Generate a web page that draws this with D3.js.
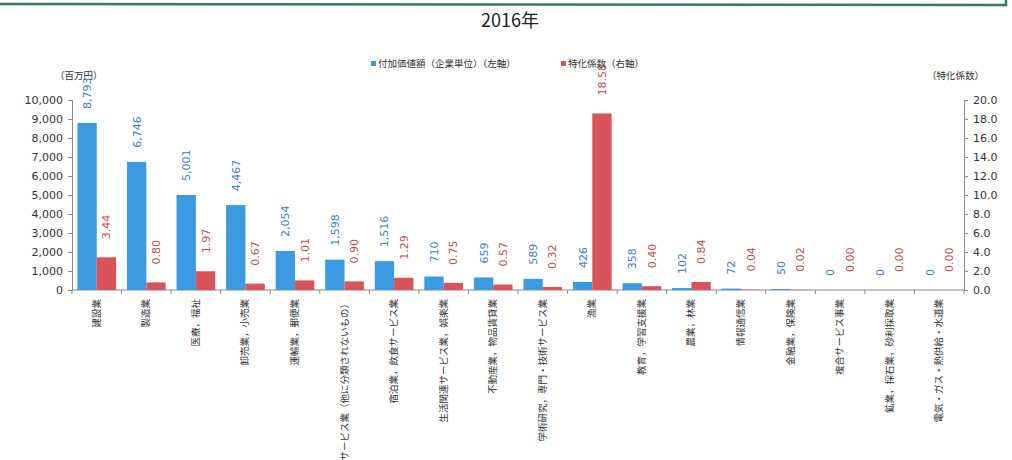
<!DOCTYPE html>
<html>
<head>
<meta charset="utf-8">
<script src="https://cdn.jsdelivr.net/npm/d3@7"></script>
<style>
  body { margin: 0; background: #fff; }
  svg { font-family: "Noto Sans CJK JP", "Noto Sans", sans-serif; }
  .axis path, .axis line { stroke: #8a8a8a; }
  .axis text { font-family: Verdana, "DejaVu Sans", sans-serif; font-size: 11px; fill: #333; }
</style>
</head>
<body>
<script>
// chart data
const categories = [
  '建設業', '製造業', '医療，福祉', '卸売業，小売業', '運輸業，郵便業',
  'サービス業（他に分類されないもの）', '宿泊業，飲食サービス業', '生活関連サービス業，娯楽業',
  '不動産業，物品賃貸業', '学術研究，専門・技術サービス業', '漁業', '教育，学習支援業',
  '農業，林業', '情報通信業', '金融業，保険業', '複合サービス事業',
  '鉱業，採石業，砂利採取業', '電気・ガス・熱供給・水道業'
];
const valueAdded = [8793, 6746, 5001, 4467, 2054, 1598, 1516, 710, 659, 589, 426, 358, 102, 72, 50, 0, 0, 0];
const specialization = [3.44, 0.80, 1.97, 0.67, 1.01, 0.90, 1.29, 0.75, 0.57, 0.32, 18.58, 0.40, 0.84, 0.04, 0.02, 0.00, 0.00, 0.00];
const leftTicks = [0, 1000, 2000, 3000, 4000, 5000, 6000, 7000, 8000, 9000, 10000];
const rightTicks = [0, 2, 4, 6, 8, 10, 12, 14, 16, 18, 20];
const seriesNames = ['付加価値額（企業単位）（左軸）', '特化係数（右軸）'];

const W = 1012, H = 460;
const plot = { left: 72, right: 964, top: 100, bottom: 290 };
const blue = '#3b9ae1', red = '#d9535a';
const blueText = '#3d7fc1', redText = '#c0504d';

const svg = d3.select('body').append('svg')
  .attr('width', W).attr('height', H);

// frame edge of the box above
svg.append('path')
  .attr('d', `M0,4 L1006,5 L1006,-2`)
  .attr('fill', 'none').attr('stroke', '#2f7d5c').attr('stroke-width', 2.5);

// title
svg.append('text')
  .attr('x', 510).attr('y', 27)
  .attr('text-anchor', 'middle')
  .attr('font-size', 18).attr('fill', '#222')
  .text('2016年');

// scales
const x = d3.scaleBand().domain(categories).range([plot.left, plot.right]).paddingInner(0.22).paddingOuter(0.11);
const x1 = d3.scaleBand().domain([0, 1]).range([0, x.bandwidth()]);
const yL = d3.scaleLinear().domain([0, 10000]).range([plot.bottom, plot.top]);
const yR = d3.scaleLinear().domain([0, 20]).range([plot.bottom, plot.top]);

// axes
svg.append('g').attr('class', 'axis')
  .attr('transform', `translate(${plot.left},0)`)
  .call(d3.axisLeft(yL).tickValues(leftTicks).tickSize(4).tickPadding(5).tickFormat(d3.format(',')));

svg.append('g').attr('class', 'axis')
  .attr('transform', `translate(${plot.right},0)`)
  .call(d3.axisRight(yR).tickValues(rightTicks).tickSize(4).tickPadding(5).tickFormat(d3.format('.1f')));

// category axis with ticks between groups
const xAxis = svg.append('g').attr('class', 'axis');
xAxis.append('line')
  .attr('x1', plot.left).attr('x2', plot.right)
  .attr('y1', plot.bottom).attr('y2', plot.bottom)
  .attr('stroke', '#8a8a8a');
const step = x.step();
d3.range(categories.length + 1).forEach(i => {
  const xx = plot.left + i * (plot.right - plot.left) / categories.length;
  xAxis.append('line')
    .attr('x1', xx).attr('x2', xx)
    .attr('y1', plot.bottom).attr('y2', plot.bottom + 4)
    .attr('stroke', '#8a8a8a');
});

// category labels (rotated)
svg.append('g').selectAll('text')
  .data(categories)
  .join('text')
  .attr('transform', d => `translate(${x(d) + x.bandwidth() / 2 + 3},${plot.bottom + 9}) rotate(-90)`)
  .attr('text-anchor', 'end')
  .attr('font-size', 9.5)
  .attr('fill', '#333')
  .text(d => d);

// blue bars
svg.append('g').selectAll('rect')
  .data(valueAdded)
  .join('rect')
  .attr('x', (d, i) => x(categories[i]) + x1(0))
  .attr('y', d => yL(d))
  .attr('width', x1.bandwidth())
  .attr('height', d => Math.max(0, plot.bottom - yL(d)))
  .attr('fill', blue);

// red bars
svg.append('g').selectAll('rect')
  .data(specialization)
  .join('rect')
  .attr('x', (d, i) => x(categories[i]) + x1(1))
  .attr('y', d => yR(d))
  .attr('width', x1.bandwidth())
  .attr('height', d => Math.max(0, plot.bottom - yR(d)))
  .attr('fill', red);

// value labels
const labelGap = 14;
svg.append('g').selectAll('text')
  .data(valueAdded)
  .join('text')
  .attr('transform', (d, i) => `translate(${x(categories[i]) + x1(0) + x1.bandwidth() / 2 + 4},${yL(d) - labelGap}) rotate(-90)`)
  .attr('font-family', 'Verdana, "DejaVu Sans", sans-serif')
  .attr('font-size', 11)
  .attr('fill', blueText)
  .text(d => d3.format(',')(d));

svg.append('g').selectAll('text')
  .data(specialization)
  .join('text')
  .attr('transform', (d, i) => `translate(${x(categories[i]) + x1(1) + x1.bandwidth() / 2 + 4},${yR(d) - labelGap - 4}) rotate(-90)`)
  .attr('font-family', 'Verdana, "DejaVu Sans", sans-serif')
  .attr('font-size', 11)
  .attr('fill', redText)
  .text(d => d.toFixed(2));

// unit labels
svg.append('text').attr('x', 55).attr('y', 79)
  .attr('font-size', 9.5).attr('fill', '#333').text('（百万円）');
svg.append('text').attr('x', 927).attr('y', 79)
  .attr('font-size', 9.5).attr('fill', '#333').text('（特化係数）');

// legend
const legend = svg.append('g').attr('transform', 'translate(371,65)');
const legendX = [0, 190];
seriesNames.forEach((name, i) => {
  legend.append('rect')
    .attr('x', legendX[i]).attr('y', -4)
    .attr('width', 5).attr('height', 5)
    .attr('fill', i === 0 ? blue : red);
  legend.append('text')
    .attr('x', legendX[i] + 7).attr('y', 2)
    .attr('font-size', 9.5).attr('fill', '#333')
    .text(name);
});
</script>
</body>
</html>
